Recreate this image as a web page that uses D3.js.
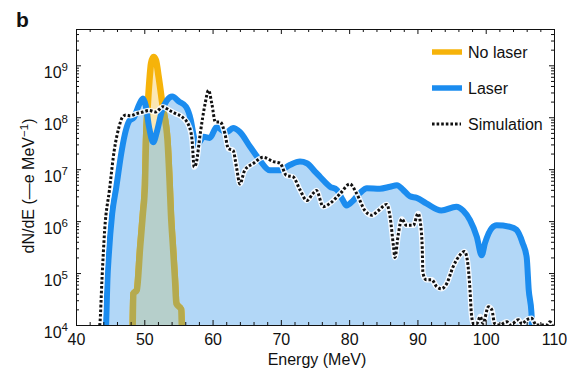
<!DOCTYPE html>
<html><head><meta charset="utf-8">
<script src="https://cdn.jsdelivr.net/npm/d3@7"></script>
<style>
body{margin:0;background:#fff}
svg{display:block}
text{font-family:"Liberation Sans",Arial,Helvetica,sans-serif;fill:#111}
</style>
</head><body>
<svg id="c" width="567" height="369"></svg>
<script>
// ---- data (energy in MeV, dN/dE in -e/MeV) ----
const noLaserE = [48.3,48.4,48.9,49.4,49.8,50.1,50.25,50.5,50.75,51.0,51.35,51.7,52.1,52.7,53.4,53.7,53.9,54.2,54.5,54.7,55.4,55.5];
const noLaserV = [9e3,4e4,4.7e4,3.2e5,1.4e6,5e6,3.6e7,1.6e8,5e8,1.1e9,1.45e9,1.26e9,6e8,1.6e8,3.6e7,6e6,1.4e6,3.2e5,7.4e4,2.6e4,2e4,9e3];

const laserE = [44.4,44.6,44.8,45.3,45.9,46.7,47.3,47.8,48.5,49.2,49.8,50.2,50.7,51.3,51.9,52.6,53.3,54.1,55.1,56.1,56.8,57.3,57.7,58.2,58.7,59.6,60.6,61.5,62.1,63.0,64.0,65.5,66.9,68.4,69.9,71.3,72.8,73.8,75.0,75.8,77.2,78.2,79.1,79.6,80.6,81.6,82.6,84.5,86.0,87.0,87.9,88.9,89.9,91.3,93.5,95.7,96.7,97.7,98.7,99.4,99.9,100.9,101.6,103.5,104.5,105.4,106.0,106.3,106.7,106.8];
const laserV = [9e3,7.4e4,2.2e5,1.4e6,4.5e6,2.3e7,5.6e7,8.5e7,1.0e8,1.7e8,2.3e8,1.7e8,6.5e7,3.3e7,5.6e7,1.35e8,2.1e8,2.5e8,2.0e8,1.6e8,9e7,4e7,2.8e7,3.5e7,4.2e7,4e7,6.5e7,5.5e7,5.2e7,6.2e7,5.2e7,2.7e7,1.5e7,9.5e6,9.5e6,1.2e7,1.4e7,1.3e7,9e6,7e6,4.6e6,4e6,2.5e6,2e6,2.5e6,3.5e6,4.3e6,4.2e6,4.6e6,4.9e6,4e6,3e6,2.8e6,2.2e6,1.6e6,1.9e6,1.6e6,1.05e6,5e5,2.2e5,3.8e5,7.4e5,8.3e5,7.8e5,6.8e5,3.8e5,2e5,4.7e4,1.7e4,9e3];

const simE = [43.3,43.5,43.8,44.2,44.9,45.6,46.3,46.8,47.3,48.0,48.8,49.8,50.7,51.7,52.7,53.7,54.6,55.6,56.6,57.0,57.3,57.6,58.2,58.9,59.4,59.9,60.4,61.1,61.8,62.3,63.0,63.5,64.0,64.7,66.0,67.4,68.9,69.9,70.8,71.8,72.8,73.8,74.7,75.2,76.2,77.2,78.7,80.1,81.1,82.3,83.3,84.3,85.5,86.0,86.5,86.7,87.2,87.7,88.4,89.4,90.1,90.4,90.7,90.8,91.3,92.1,92.8,93.5,94.3,95.2,96.2,96.9,97.3,97.7,97.9,98.2,98.7,99.2,99.6,100.4,100.9,101.3,102.0,103.1,103.6,104.8,105.3,106.0,106.7,107.4,109.0,109.4,109.8];
const simV = [8e3,1.07e4,7.4e4,6.8e5,4e6,2.3e7,6.5e7,1e8,1.1e8,1.07e8,1.17e8,1.26e8,1.35e8,1.26e8,1.6e8,1.35e8,1.17e8,1e8,6.5e7,3.6e7,1.1e7,1.3e7,4.9e7,1.8e8,3.3e8,1.8e8,8.1e7,8.1e7,4.9e7,2.5e7,2.3e7,1.1e7,5.2e6,9.5e6,1.3e7,1.7e7,1.4e7,1.3e7,7.6e6,7.1e6,4e6,2.5e6,3.4e6,3.9e6,1.9e6,2.2e6,3.4e6,5.2e6,3.4e6,1.6e6,1.3e6,1.6e6,2.1e6,1.2e6,3.2e5,2e5,5.6e5,1.1e6,8.3e5,8.3e5,1.4e6,1e6,3.2e5,1e5,7.4e4,7.4e4,5.5e4,5e4,6.3e4,1.3e5,2.2e5,2.6e5,1.8e5,4.7e4,1.66e4,1.07e4,1.07e4,1.45e4,1.07e4,2.24e4,1.95e4,1.07e4,1e4,1.15e4,1e4,1.26e4,1.05e4,1.26e4,1.35e4,1e4,1e4,1.15e4,1e4];

const xMajor = [40,50,60,70,80,90,100,110];
const yMajorExp = [4,5,6,7,8,9];
const legendLabels = ["No laser","Laser","Simulation"];

// ---- layout ----
const svg = d3.select("#c");
const L = 76, R = 554, T = 29, B = 325;
const FS = 16;
const x = d3.scaleLinear().domain([40,110]).range([L,R]);
const y = d3.scaleLog().domain([1e4,5e9]).range([B,T]);

const zip = (E,V) => E.map((e,i)=>[e,V[i]]);
const noLaser = zip(noLaserE,noLaserV), laser = zip(laserE,laserV), sim = zip(simE,simV);

const defs = svg.append("defs");
defs.append("clipPath").attr("id","plot").append("rect").attr("x",L).attr("y",T).attr("width",R-L).attr("height",B-T);

const line = d3.line().x(d=>x(d[0])).y(d=>y(d[1])).curve(d3.curveMonotoneX);
const area = d3.area().x(d=>x(d[0])).y0(B).y1(d=>y(d[1])).curve(d3.curveMonotoneX);

defs.append("clipPath").attr("id","laserArea").append("path").attr("d",area(laser));

const g = svg.append("g").attr("clip-path","url(#plot)");

// laser fill
g.append("path").attr("d",area(laser)).attr("fill","#b2d7f7");
// no laser fill + line (orange outside laser fill, olive inside)
g.append("path").attr("d",area(noLaser)).attr("fill","#fbe7b4");
g.append("path").attr("d",line(noLaser)).attr("fill","none").attr("stroke","#f6b30a").attr("stroke-width",6.5).attr("stroke-linejoin","round");
const inner = g.append("g").attr("clip-path","url(#laserArea)");
inner.append("path").attr("d",area(noLaser)).attr("fill","#b6cfcb");
inner.append("path").attr("d",line(noLaser)).attr("fill","none").attr("stroke","#b5aa4e").attr("stroke-width",6.5).attr("stroke-linejoin","round");
// laser line
g.append("path").attr("d",line(laser)).attr("fill","none").attr("stroke","#1b8cef").attr("stroke-width",6).attr("stroke-linejoin","round");
// simulation
g.append("path").attr("d",line(sim)).attr("fill","none").attr("stroke","#fff").attr("stroke-width",5.5).attr("stroke-linejoin","round").attr("opacity",0.9);
g.append("path").attr("d",line(sim)).attr("fill","none").attr("stroke","#111").attr("stroke-width",3).attr("stroke-dasharray","2.6,2");

// ---- axes ----
const xMinor = d3.range(40,111,2).filter(v=>v%10!==0);
const yMinor = [];
yMajorExp.forEach(e=>{ for(let k=2;k<=9;k++){ const v=k*Math.pow(10,e); if(v<=5e9) yMinor.push(v);} });
const yMajor = yMajorExp.map(e=>Math.pow(10,e));

function style(sel){ sel.selectAll("path,line").attr("stroke","#111").attr("stroke-width",1); sel.selectAll("text").attr("font-size",FS).attr("fill","#111").attr("font-family",'"Liberation Sans",Arial,sans-serif'); }

const xb = svg.append("g").attr("transform",`translate(0,${B})`)
  .call(d3.axisBottom(x).tickValues(xMajor).tickSizeInner(-5).tickSizeOuter(0).tickPadding(8.5).tickFormat(d3.format("d")));
style(xb);
svg.append("g").attr("transform",`translate(0,${B})`).call(d3.axisBottom(x).tickValues(xMinor).tickSizeInner(-3).tickSizeOuter(0).tickFormat("")).call(style).select(".domain").remove();
svg.append("g").attr("transform",`translate(0,${T})`).call(d3.axisTop(x).tickValues(xMajor).tickSizeInner(-5).tickSizeOuter(0).tickFormat("")).call(style);
svg.append("g").attr("transform",`translate(0,${T})`).call(d3.axisTop(x).tickValues(xMinor).tickSizeInner(-3).tickSizeOuter(0).tickFormat("")).call(style).select(".domain").remove();

const yl = svg.append("g").attr("transform",`translate(${L},0)`)
  .call(d3.axisLeft(y).tickValues(yMajor).tickSizeInner(-5).tickSizeOuter(0).tickFormat(""));
style(yl);
yl.selectAll(".tick").each(function(d){
  const t = d3.select(this).append("text").attr("x",-8).attr("y",12).attr("text-anchor","end").attr("font-size",FS).attr("fill","#111");
  t.append("tspan").text("10");
  t.append("tspan").attr("font-size",11.5).attr("dy",-7).text(String(Math.round(Math.log10(d))));
});
svg.append("g").attr("transform",`translate(${L},0)`).call(d3.axisLeft(y).tickValues(yMinor).tickSizeInner(-3).tickSizeOuter(0).tickFormat("")).call(style).select(".domain").remove();
svg.append("g").attr("transform",`translate(${R},0)`).call(d3.axisRight(y).tickValues(yMajor).tickSizeInner(-5).tickSizeOuter(0).tickFormat("")).call(style);
svg.append("g").attr("transform",`translate(${R},0)`).call(d3.axisRight(y).tickValues(yMinor).tickSizeInner(-3).tickSizeOuter(0).tickFormat("")).call(style).select(".domain").remove();

// axis titles
svg.append("text").attr("x",(L+R)/2+2).attr("y",365).attr("text-anchor","middle").attr("font-size",FS).text("Energy (MeV)");
const yt = svg.append("text").attr("transform",`translate(34,${186}) rotate(-90)`).attr("text-anchor","middle").attr("font-size",FS);
yt.append("tspan").text("dN/dE (\u2014e MeV");
yt.append("tspan").attr("font-size",11.5).attr("dy",-6).text("\u22121");
yt.append("tspan").attr("dy",6).text(")");

// panel label
svg.append("text").attr("x",16).attr("y",27).attr("font-size",21).attr("font-weight","bold").text("b");

// ---- legend ----
const lg = svg.append("g");
const ly = [52,88,124];
lg.append("line").attr("x1",432).attr("x2",462).attr("y1",ly[0]).attr("y2",ly[0]).attr("stroke","#f6b30a").attr("stroke-width",5.5);
lg.append("line").attr("x1",432).attr("x2",462).attr("y1",ly[1]).attr("y2",ly[1]).attr("stroke","#1b8cef").attr("stroke-width",5.5);
lg.append("line").attr("x1",432).attr("x2",461).attr("y1",ly[2]).attr("y2",ly[2]).attr("stroke","#111").attr("stroke-width",3).attr("stroke-dasharray","2.6,2");
legendLabels.forEach((t,i)=>{
  lg.append("text").attr("x",468).attr("y",ly[i]+5.5).attr("font-size",FS).text(t);
});
</script>
</body></html>
